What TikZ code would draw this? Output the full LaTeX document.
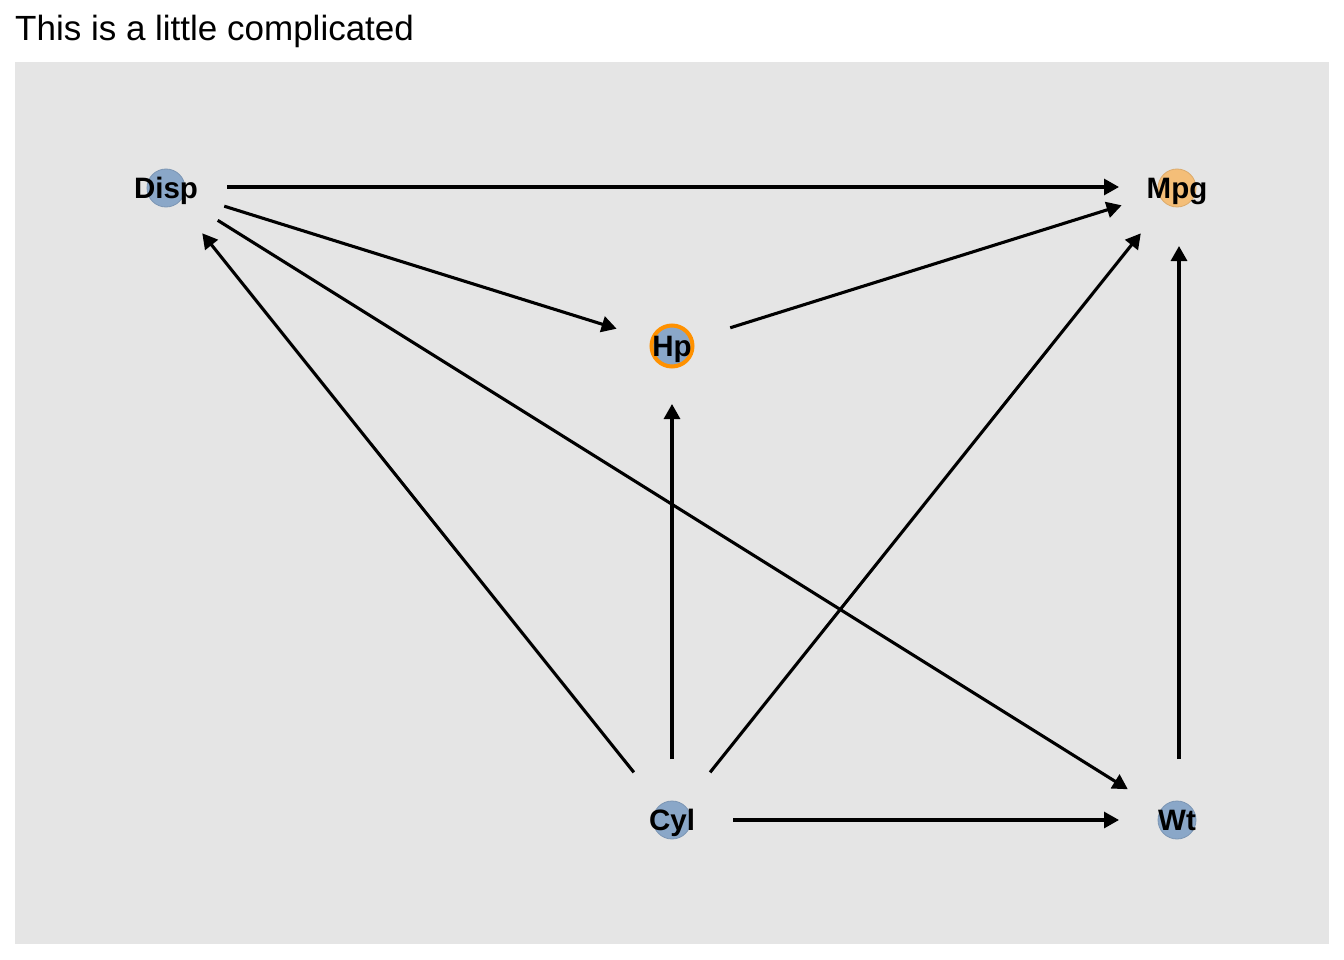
\documentclass[tikz,border=0pt]{standalone}
\usepackage{fontspec}
\setmainfont{Liberation Sans}
\usetikzlibrary{arrows.meta}
\definecolor{panelbg}{HTML}{E5E5E5}
\definecolor{nodeblue}{RGB}{138,167,200}
\definecolor{nodeorange}{RGB}{244,190,120}
\definecolor{hpborder}{RGB}{255,145,0}
\tikzset{
  dagnode/.style={circle, minimum size=38pt, inner sep=0pt, draw=nodeblue!90!black, line width=0.8pt, fill=nodeblue},
  lbl/.style={anchor=base, inner sep=0pt, font=\fontsize{29.5}{30}\selectfont\bfseries},
  edge/.style={line width=3.1pt, -{Triangle[length=15pt,width=16pt]}, shorten <=61pt, shorten >=58pt}
}
\begin{document}
\begin{tikzpicture}[x=1pt,y=-1pt]
\useasboundingbox (0,0) rectangle (1344,960);
\fill[white] (0,0) rectangle (1344,960);
\fill[panelbg] (15,62) rectangle (1329,944);
\node[anchor=base west, inner sep=0pt, font=\fontsize{35}{36}\selectfont] (title) at (15,40.5) {This is a little complicated};
% nodes
\node[dagnode] (disp) at (166,188) {};
\node[dagnode, fill=nodeorange, draw=nodeorange!90!black] (mpg) at (1177,188) {};
\node[dagnode, minimum size=41pt, draw=hpborder, line width=4pt] (hp) at (672,346) {};
\node[dagnode] (cyl) at (672,820) {};
\node[dagnode] (wt) at (1177,820) {};
% labels
\node[lbl] (disptext) at (166,198.5) {Disp};
\node[lbl] (mpgtext) at (1177,198.5) {Mpg};
\node[lbl] (hptext) at (672,356.5) {Hp};
\node[lbl] (cyltext) at (672,830.5) {Cyl};
\node[lbl] (wttext) at (1177,830.5) {Wt};
% edges
\draw[edge] ([yshift=1pt]disp.center) -- ([yshift=1pt]mpg.center);
\draw[edge] (disp.center) -- (hp.center);
\draw[edge] (hp.center) -- (mpg.center);
\draw[edge] (cyl.center) -- (disp.center);
\draw[edge] (disp.center) -- (wt.center);
\draw[edge] (cyl.center) -- (hp.center);
\draw[edge] (cyl.center) -- (mpg.center);
\draw[edge] (cyl.center) -- (wt.center);
\draw[edge] ([xshift=2pt]wt.center) -- ([xshift=2pt]mpg.center);
\end{tikzpicture}
\end{document}
